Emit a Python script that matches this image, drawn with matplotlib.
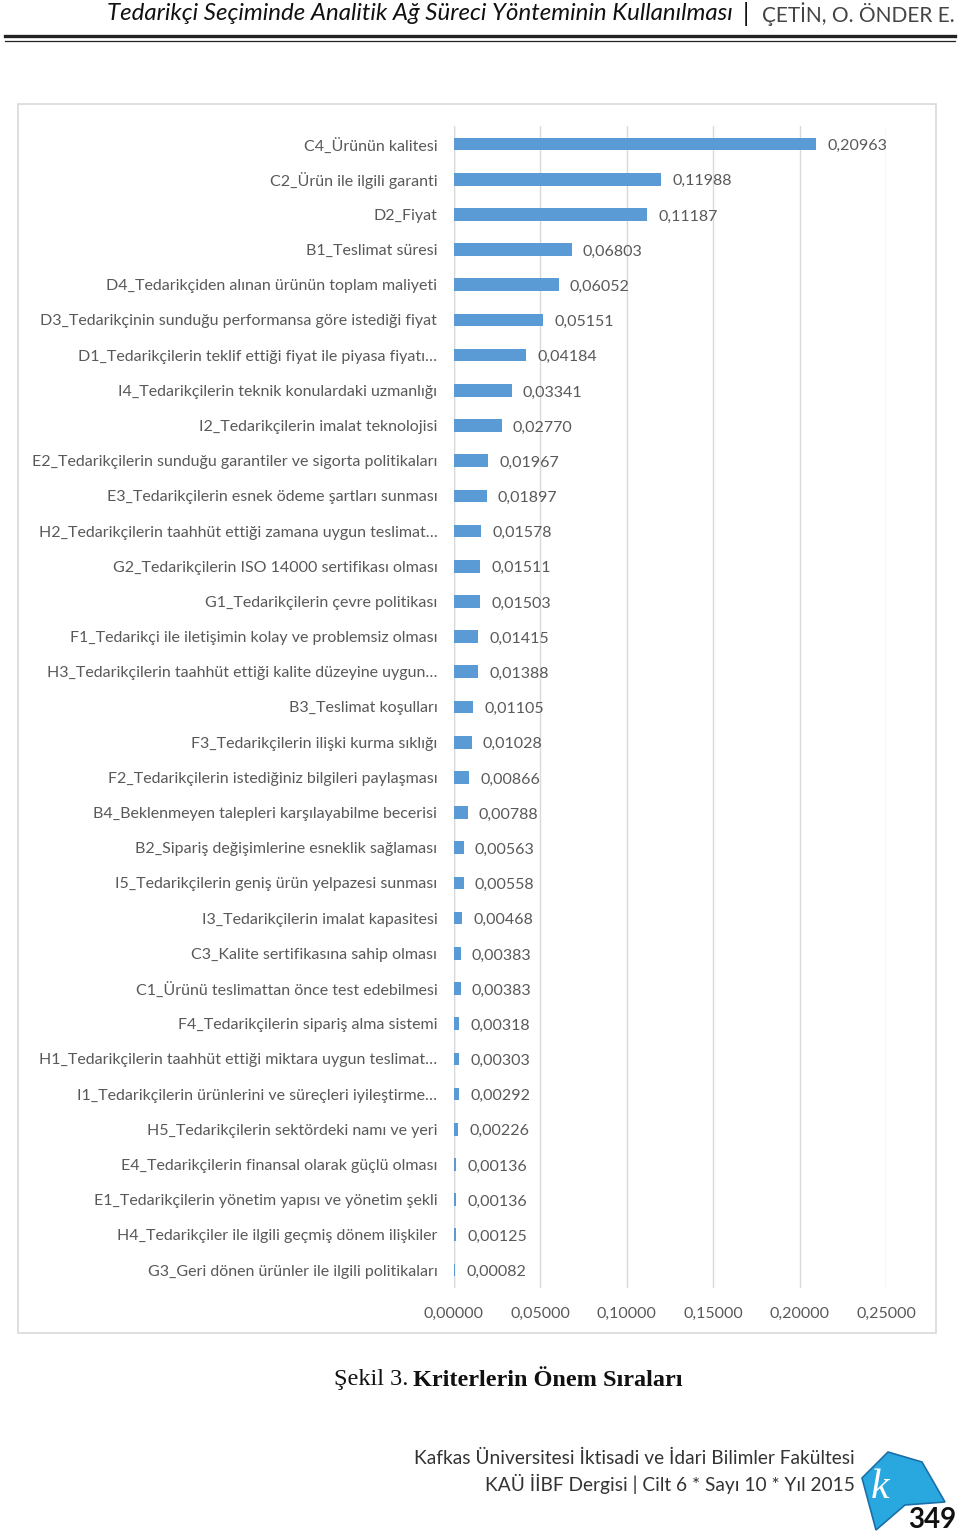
import matplotlib.pyplot as plt
from matplotlib.patches import Rectangle, Polygon
from matplotlib.lines import Line2D

criteria = [
    "C4_Ürünün kalitesi",
    "C2_Ürün ile ilgili garanti",
    "D2_Fiyat",
    "B1_Teslimat süresi",
    "D4_Tedarikçiden alınan ürünün toplam maliyeti",
    "D3_Tedarikçinin sunduğu performansa göre istediği fiyat",
    "D1_Tedarikçilerin teklif ettiği fiyat ile piyasa fiyatı…",
    "I4_Tedarikçilerin teknik konulardaki uzmanlığı",
    "I2_Tedarikçilerin imalat teknolojisi",
    "E2_Tedarikçilerin sunduğu garantiler ve sigorta politikaları",
    "E3_Tedarikçilerin esnek ödeme şartları sunması",
    "H2_Tedarikçilerin taahhüt ettiği zamana uygun teslimat…",
    "G2_Tedarikçilerin ISO 14000 sertifikası olması",
    "G1_Tedarikçilerin çevre politikası",
    "F1_Tedarikçi ile iletişimin kolay ve problemsiz olması",
    "H3_Tedarikçilerin taahhüt ettiği kalite düzeyine uygun…",
    "B3_Teslimat koşulları",
    "F3_Tedarikçilerin ilişki kurma sıklığı",
    "F2_Tedarikçilerin istediğiniz bilgileri paylaşması",
    "B4_Beklenmeyen talepleri karşılayabilme becerisi",
    "B2_Sipariş değişimlerine esneklik sağlaması",
    "I5_Tedarikçilerin geniş ürün yelpazesi sunması",
    "I3_Tedarikçilerin imalat kapasitesi",
    "C3_Kalite sertifikasına sahip olması",
    "C1_Ürünü teslimattan önce test edebilmesi",
    "F4_Tedarikçilerin sipariş alma sistemi",
    "H1_Tedarikçilerin taahhüt ettiği miktara uygun teslimat…",
    "I1_Tedarikçilerin ürünlerini ve süreçleri iyileştirme…",
    "H5_Tedarikçilerin sektördeki namı ve yeri",
    "E4_Tedarikçilerin finansal olarak güçlü olması",
    "E1_Tedarikçilerin yönetim yapısı ve yönetim şekli",
    "H4_Tedarikçiler ile ilgili geçmiş dönem ilişkiler",
    "G3_Geri dönen ürünler ile ilgili politikaları",
]
weights = [0.20963, 0.11988, 0.11187, 0.06803, 0.06052, 0.05151, 0.04184,
           0.03341, 0.02770, 0.01967, 0.01897, 0.01578, 0.01511, 0.01503,
           0.01415, 0.01388, 0.01105, 0.01028, 0.00866, 0.00788, 0.00563,
           0.00558, 0.00468, 0.00383, 0.00383, 0.00318, 0.00303, 0.00292,
           0.00226, 0.00136, 0.00136, 0.00125, 0.00082]
xticks = [0.0, 0.05, 0.10, 0.15, 0.20, 0.25]

gray = "#595959"
blue = "#5B9BD5"
lab_font = ["Lato", "DejaVu Sans"]

fig = plt.figure(figsize=(9.6, 15.37), dpi=100)
W, H = 960, 1537

def fx(px):
    return px / W

def fy(py):
    return 1 - py / H

# page header
fig.text(fx(733), fy(14), "Tedarikçi Seçiminde Analitik Ağ Süreci Yönteminin Kullanılması",
         ha="right", va="center", fontsize=17.3, style="italic", family=lab_font, color="#111111")
fig.text(fx(746), fy(14), "|", ha="center", va="center", fontsize=18, family=lab_font, color="#111111")
fig.text(fx(955), fy(14), "ÇETİN, O. ÖNDER E.", ha="right", va="center",
         fontsize=15, family=lab_font, color="#444444")
fig.add_artist(Line2D([fx(5), fx(955)], [fy(36), fy(36)], color="#222222", lw=2.4))
fig.add_artist(Line2D([fx(5), fx(955)], [fy(40.5), fy(40.5)], color="#222222", lw=0.9))

# chart frame
fig.add_artist(Rectangle((fx(18), fy(1333)), fx(936) - fx(18), fy(104) - fy(1333),
                         transform=fig.transFigure, fill=False, edgecolor="#D9D9D9", lw=1.2))

ax = fig.add_axes([fx(454), fy(1287.6), fx(886) - fx(454), fy(126.4) - fy(1287.6)])
pos = list(range(len(criteria)))
ax.barh(pos, weights, height=0.36, color=blue, zorder=3)
ax.set_ylim(len(criteria) - 0.5, -0.5)
ax.set_xlim(0, 0.25)
ax.set_yticks(pos)
ax.set_yticklabels(criteria, fontsize=11.5, color=gray, family=lab_font)
ax.set_xticks(xticks)
ax.set_xticklabels([f"{t:.5f}".replace(".", ",") for t in xticks],
                   fontsize=11.5, color=gray, family=lab_font)
ax.tick_params(axis="y", length=0, pad=12)
ax.tick_params(axis="x", length=0, pad=14)
ax.grid(axis="x", color="#D9D9D9", lw=1, zorder=0)
for s in ax.spines.values():
    s.set_visible(False)
ax.axvline(0, color="#D9D9D9", lw=1, zorder=1)

for p, w in zip(pos, weights):
    ax.annotate(f"{w:.5f}".replace(".", ","), (w, p), xytext=(8, -1.5),
                textcoords="offset points", va="center", ha="left",
                fontsize=11.5, color=gray, family=lab_font)

# caption
fig.text(fx(408), fy(1380), "Şekil 3.", ha="right", va="center", fontsize=17.5,
         family="Liberation Serif", color="#111111")
fig.text(fx(413), fy(1380), "Kriterlerin Önem Sıraları", ha="left", va="center", fontsize=17.5,
         family="Liberation Serif", weight="bold", color="#111111")

# footer
fig.text(fx(855), fy(1458), "Kafkas Üniversitesi İktisadi ve İdari Bilimler Fakültesi",
         ha="right", va="center", fontsize=13.8, family=lab_font, color="#333333")
fig.text(fx(855), fy(1484), "KAÜ İİBF Dergisi | Cilt 6 * Sayı 10 * Yıl 2015",
         ha="right", va="center", fontsize=13.8, family=lab_font, color="#333333")

# logo
book = Polygon([(fx(862), fy(1478)), (fx(888), fy(1452)), (fx(922), fy(1462)),
                (fx(945), fy(1502)), (fx(905), fy(1505)), (fx(876), fy(1530))],
               closed=True, transform=fig.transFigure, facecolor="#29A8E0",
               edgecolor="#1B6FA8", lw=1.2)
fig.add_artist(book)
fig.text(fx(880), fy(1488), "k", ha="center", va="center", fontsize=30, style="italic",
         family="Liberation Serif", color="white")
fig.text(fx(956), fy(1520), "349", ha="right", va="center", fontsize=20, weight="bold",
         family=lab_font, color="#111111")

fig.savefig("out.png", dpi=100, facecolor="white")
